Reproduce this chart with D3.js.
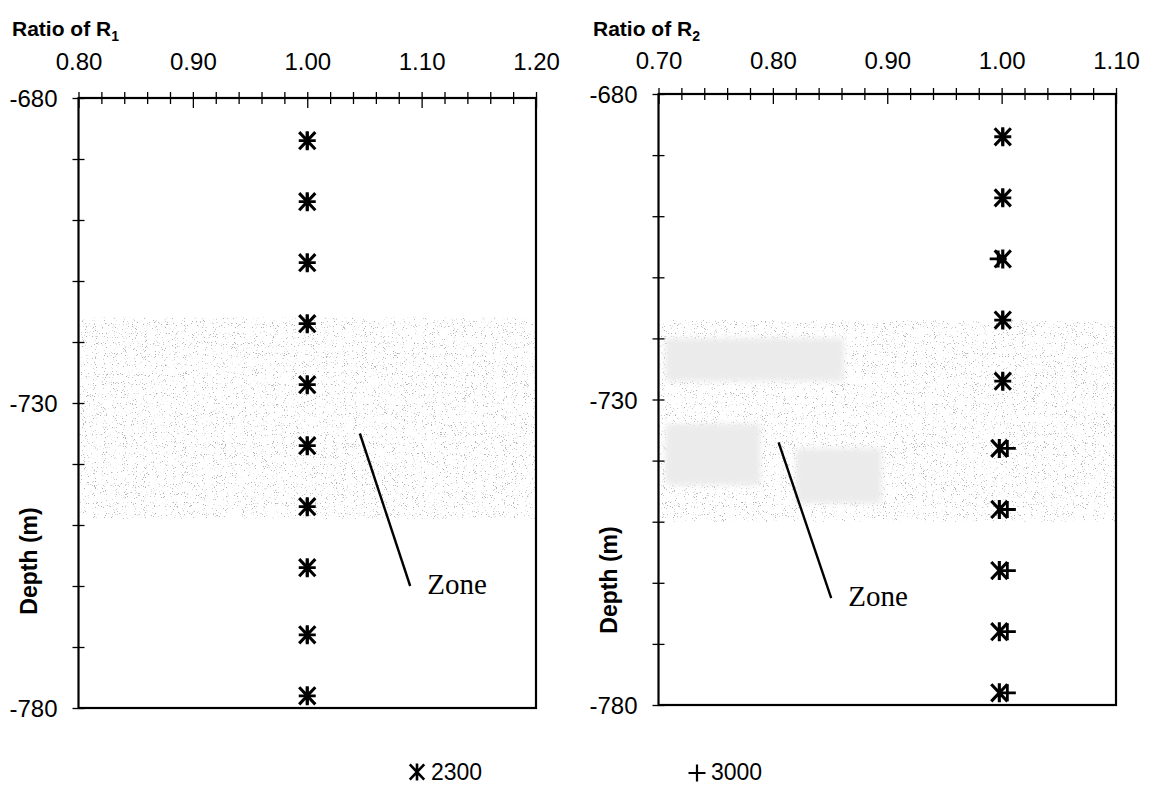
<!DOCTYPE html>
<html>
<head>
<meta charset="utf-8">
<script src="https://cdn.jsdelivr.net/npm/d3@7"></script>
<style>
  body { margin: 0; background: #fff; }
  text { font-family: "Liberation Sans", Arial, Helvetica, sans-serif; fill: #000; }
  .zone-label { font-family: "Liberation Serif", "Times New Roman", serif; font-size: 29px; }
</style>
</head>
<body>
<svg id="chart" width="1152" height="786"></svg>
<script>
// depths of the measurement points (m)
var depthsR1 = [-687, -697, -707, -717, -727, -737, -747, -757, -768, -778];
var depthsR2 = [-687, -697, -707, -717, -727, -738, -748, -758, -768, -778];

// ratios, one array per series
var r1_2300 = [1.00, 1.00, 1.00, 1.00, 1.00, 1.00, 1.00, 1.00, 1.00, 1.00];
var r1_3000 = [1.00, 1.00, 1.00, 1.00, 1.00, 1.00, 1.00, 1.00, 1.00, 1.00];
var r2_2300 = [1.001, 1.001, 1.001, 1.001, 1.001, 0.998, 0.998, 0.998, 0.998, 0.998];
var r2_3000 = [1.001, 1.001, 0.997, 1.001, 1.001, 1.005, 1.005, 1.005, 1.005, 1.005];

// axis ticks
var r1Labels = [0.80, 0.90, 1.00, 1.10, 1.20];
var r2Labels = [0.70, 0.80, 0.90, 1.00, 1.10];
var depthLabels = [-680, -730, -780];

// zone (m) and pointer line ends [ratio, depth]
var zoneR1 = [-716, -749];
var zoneR2 = [-717, -750];
var pointerR1 = [[1.046, -735], [1.090, -760]];
var pointerR2 = [[0.805, -737], [0.851, -762.5]];

// greyed-out blocks on the second panel [x0, x1, depth0, depth1]
var blocksR2 = [[0.706, 0.862, -720, -727], [0.706, 0.789, -734, -744], [0.820, 0.895, -738, -747]];

var svg = d3.select("#chart");
var defs = svg.append("defs");

var stipple = defs.append("filter").attr("id", "stipple")
    .attr("x", 0).attr("y", 0).attr("width", 1).attr("height", 1);
stipple.append("feTurbulence")
    .attr("type", "fractalNoise").attr("baseFrequency", 0.9)
    .attr("numOctaves", 2).attr("seed", 7).attr("result", "n");
stipple.append("feColorMatrix").attr("in", "n").attr("type", "matrix")
    .attr("values", "0 0 0 0 0.45  0 0 0 0 0.45  0 0 0 0 0.45  9 0 0 0 -5.75")
    .attr("result", "d");
stipple.append("feComposite").attr("in", "d").attr("in2", "SourceAlpha").attr("operator", "in");

defs.append("filter").attr("id", "blur")
    .attr("x", "-10%").attr("y", "-20%").attr("width", "120%").attr("height", "140%")
  .append("feGaussianBlur").attr("stdDeviation", 3);

function asteriskPath(r) {
    var dx = r * 0.85, dy = r * 0.9;
    return "M0," + (-r) + "V" + r +
        "M" + (-dx) + "," + (-dy) + "L" + dx + "," + dy +
        "M" + dx + "," + (-dy) + "L" + (-dx) + "," + dy;
}
function plusPath(r) {
    return "M" + (-r) + ",0H" + r + "M0," + (-r) + "V" + r;
}

function drawPanel(cfg) {
    var x = d3.scaleLinear().domain(cfg.xDomain).range([cfg.left, cfg.right]);
    var y = d3.scaleLinear().domain([-680, -780]).range([cfg.top, cfg.bottom]);
    var g = svg.append("g");

    // stippled zone
    g.append("rect")
        .attr("x", cfg.left).attr("y", y(cfg.zone[0]))
        .attr("width", cfg.right - cfg.left).attr("height", y(cfg.zone[1]) - y(cfg.zone[0]))
        .attr("fill", "#fff").attr("filter", "url(#stipple)");

    g.selectAll(".block")
        .data(cfg.blocks)
        .enter()
        .append("rect")
        .attr("x", function(d) { return x(d[0]); })
        .attr("y", function(d) { return y(d[2]); })
        .attr("width", function(d) { return x(d[1]) - x(d[0]); })
        .attr("height", function(d) { return y(d[3]) - y(d[2]); })
        .attr("fill", "#ebebeb")
        .attr("filter", "url(#blur)");

    // frame
    g.append("rect")
        .attr("x", cfg.left).attr("y", cfg.top)
        .attr("width", cfg.right - cfg.left).attr("height", cfg.bottom - cfg.top)
        .attr("fill", "none").attr("stroke", "#000").attr("stroke-width", 2.2);

    // top axis
    var xTicks = d3.range(0, 21).map(function(i) { return cfg.xDomain[0] + i * 0.02; });
    var xAxis = g.append("g")
        .attr("transform", "translate(0," + cfg.top + ")")
        .call(d3.axisTop(x).tickValues(xTicks).tickSize(0)
            .tickFormat(function(d, i) { return i % 5 === 0 ? d3.format(".2f")(d) : ""; }));
    xAxis.select(".domain").remove();
    xAxis.selectAll(".tick line")
        .attr("stroke-width", 1.3)
        .attr("y1", -6)
        .attr("y2", function(d, i) { return i % 5 === 0 ? 10 : 6; });
    xAxis.selectAll(".tick text")
        .attr("y", cfg.xLabelY - cfg.top).attr("dy", 0)
        .style("font-size", "24px").style("font-family", null);

    // left axis
    var yTicks = d3.range(-680, -781, -10);
    var yAxis = g.append("g")
        .attr("transform", "translate(" + cfg.left + ",0)")
        .call(d3.axisLeft(y).tickValues(yTicks).tickSize(0)
            .tickFormat(function(d) { return depthLabels.indexOf(d) >= 0 ? d : ""; }));
    yAxis.select(".domain").remove();
    yAxis.selectAll(".tick line")
        .attr("stroke-width", 1.3)
        .attr("x1", -6).attr("x2", 6);
    yAxis.selectAll(".tick text")
        .attr("x", -21).attr("dy", "0.36em")
        .style("font-size", "24px").style("font-family", null);

    // titles
    var title = g.append("text")
        .attr("x", cfg.titleX).attr("y", 36)
        .style("font-size", "21px").style("font-weight", "bold");
    title.append("tspan").text("Ratio of R");
    title.append("tspan").attr("dy", 5).style("font-size", "14px").text(cfg.sub);

    g.append("text")
        .attr("transform", "translate(" + cfg.depthX + "," + cfg.depthY + ")rotate(-90)")
        .attr("text-anchor", "middle")
        .style("font-size", "23px").style("font-weight", "bold")
        .text("Depth (m)");

    // zone pointer
    g.append("line")
        .attr("x1", x(cfg.pointer[0][0])).attr("y1", y(cfg.pointer[0][1]))
        .attr("x2", x(cfg.pointer[1][0])).attr("y2", y(cfg.pointer[1][1]))
        .attr("stroke", "#000").attr("stroke-width", 2.4);
    g.append("text")
        .attr("class", "zone-label")
        .attr("x", x(cfg.pointer[1][0]) + 17).attr("y", y(cfg.pointer[1][1]) + 8)
        .text("Zone");

    // markers
    g.selectAll(".m2300")
        .data(cfg.s2300)
        .enter()
        .append("path")
        .attr("transform", function(d, i) { return "translate(" + x(d) + "," + y(cfg.depths[i]) + ")"; })
        .attr("d", asteriskPath(9.5))
        .attr("stroke", "#000").attr("stroke-width", 3.1).attr("fill", "none");

    g.selectAll(".m3000")
        .data(cfg.s3000)
        .enter()
        .append("path")
        .attr("transform", function(d, i) { return "translate(" + x(d) + "," + y(cfg.depths[i]) + ")"; })
        .attr("d", plusPath(8.5))
        .attr("stroke", "#000").attr("stroke-width", 2.8).attr("fill", "none");
}

drawPanel({
    xDomain: [0.80, 1.20], left: 78.5, right: 536, top: 98, bottom: 708,
    xLabelY: 70, titleX: 12, sub: "1", depthX: 37, depthY: 561,
    zone: zoneR1, pointer: pointerR1, blocks: [],
    depths: depthsR1, s2300: r1_2300, s3000: r1_3000
});

drawPanel({
    xDomain: [0.70, 1.10], left: 658.5, right: 1116, top: 94, bottom: 705,
    xLabelY: 69, titleX: 593, sub: "2", depthX: 617, depthY: 580,
    zone: zoneR2, pointer: pointerR2, blocks: blocksR2,
    depths: depthsR2, s2300: r2_2300, s3000: r2_3000
});

// legend
var legend = svg.append("g");
legend.append("path")
    .attr("transform", "translate(417,772)")
    .attr("d", asteriskPath(8.5))
    .attr("stroke", "#000").attr("stroke-width", 2.6).attr("fill", "none");
legend.append("text").attr("x", 431).attr("y", 780).style("font-size", "23px").text("2300");
legend.append("path")
    .attr("transform", "translate(697,773)")
    .attr("d", plusPath(8.5))
    .attr("stroke", "#000").attr("stroke-width", 2.2).attr("fill", "none");
legend.append("text").attr("x", 711).attr("y", 780).style("font-size", "23px").text("3000");
</script>
</body>
</html>
